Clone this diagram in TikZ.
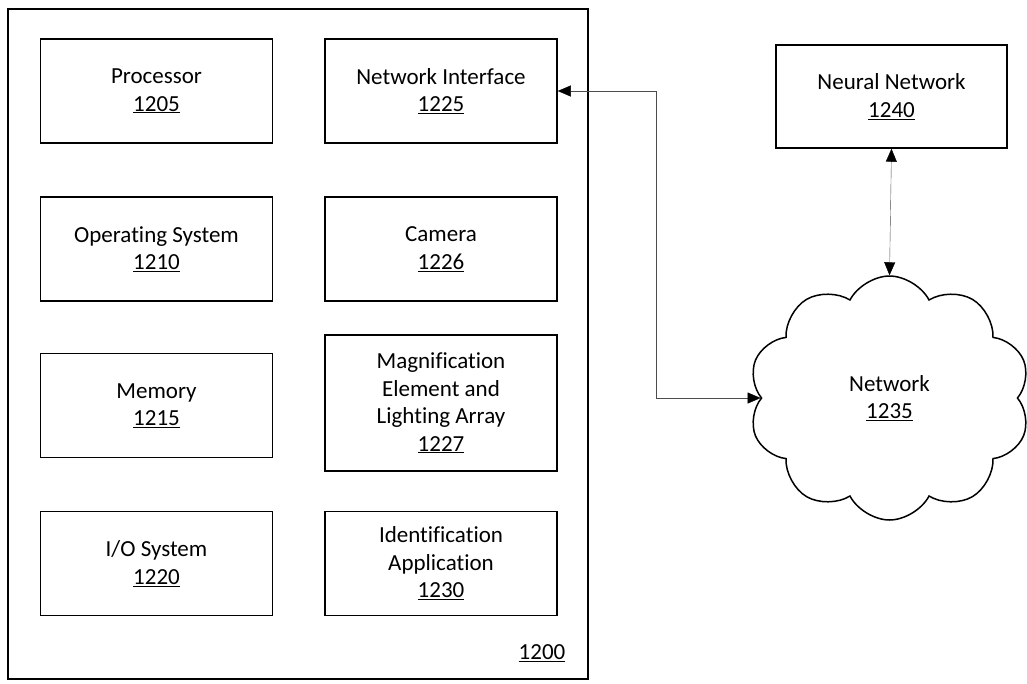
\documentclass[tikz,border=0pt]{standalone}
\usepackage{fontspec}
\setmainfont{Carlito}[Ligatures=CommonOff]
\usetikzlibrary{arrows.meta, shapes.symbols}
\tikzset{
    unit/.style={draw, line width=1.5pt, align=center, minimum width=232pt, minimum height=104pt, inner sep=0pt}, % boxes inside the system
    link/.style={thin, black!70, {Triangle[length=13pt, width=11pt, black]}-{Triangle[length=13pt, width=11pt, black]}} % connectors
}

\begin{document}
\begin{tikzpicture}[x=1pt, y=-1pt, font=\fontsize{23}{27.5}\selectfont]
    \def\xl{156.5} \def\xr{441}
    \useasboundingbox (0,0) rectangle (1027,683);

    \draw[line width=1.5pt] (8,9) rectangle (588,679);
    \node (lbl) at (542,653) {\underline{1200}};

    \node[unit] (proc) at (\xl,91) {Processor\\\underline{1205}};
    \node[unit] (os) at (\xl,249) {Operating System\\\underline{1210}};
    \node[unit] (mem) at (\xl,405.5) {Memory\\\underline{1215}};
    \node[unit] (io) at (\xl,563.5) {I/O System\\\underline{1220}};

    \node[unit] (netif) at (\xr,91) {Network Interface\\\underline{1225}};
    \node[unit] (cam) at (\xr,249) {Camera\\\underline{1226}};
    \node[unit, minimum height=136pt] (mag) at (\xr,403) {Magnification\\Element and\\Lighting Array\\\underline{1227}};
    \node[unit] (idapp) at (\xr,563.5) {Identification\\Application\\\underline{1230}};

    \node[unit, minimum width=231pt, minimum height=103pt] (neural) at (891.5,96.5) {Neural Network\\\underline{1240}};
    \node[cloud, draw, line width=1.5pt, align=center, cloud puffs=10, cloud puff arc=125, aspect=1.15, minimum width=282pt, minimum height=244pt, inner sep=0pt] (net) at (889.5,398) {Network\\\underline{1235}};

    \draw[link] (netif.east) -- ++(98,0) |- (net.west);
    \draw[link] (neural.south) -- (net.north);
\end{tikzpicture}
\end{document}
